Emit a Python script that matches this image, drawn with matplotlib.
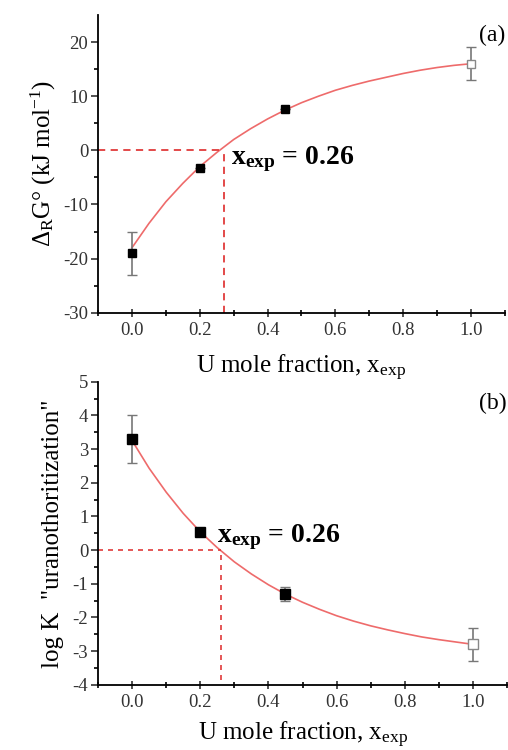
import numpy as np
import matplotlib
matplotlib.use('Agg')
import matplotlib.pyplot as plt

plt.rcParams['font.family'] = ['Liberation Serif', 'DejaVu Serif']
plt.rcParams['mathtext.fontset'] = 'custom'
plt.rcParams['mathtext.rm'] = 'Liberation Serif'
plt.rcParams['mathtext.it'] = 'Liberation Serif:italic'
plt.rcParams['mathtext.bf'] = 'Liberation Serif:bold'
plt.rcParams['axes.unicode_minus'] = False

# measured points: mole fraction, value, error
x_pts = [0.0, 0.2, 0.45]
dG_pts = [-19.0, -3.2, 7.6]
dG_err = [4.0, 0.0, 0.0]
x_end = [1.0]
dG_end = [16.0]
dG_end_err = [3.0]

logK_pts = [3.3, 0.55, -1.3]
logK_err = [0.7, 0.0, 0.2]
logK_end = [-2.8]
logK_end_err = [0.5]

# fitted curves read along x
x_fit = [0.0, 0.05, 0.1, 0.15, 0.2, 0.25, 0.3, 0.35, 0.4, 0.45, 0.5,
         0.55, 0.6, 0.65, 0.7, 0.75, 0.8, 0.85, 0.9, 0.95, 1.0]
dG_fit = [-18.0, -13.5, -9.5, -6.1, -3.0, -0.4, 2.0, 4.0, 5.8, 7.4, 8.8,
          10.0, 11.1, 12.0, 12.8, 13.5, 14.2, 14.8, 15.3, 15.7, 16.0]
logK_fit = [3.25, 2.43, 1.72, 1.09, 0.54, 0.07, -0.35, -0.71, -1.03, -1.31, -1.55,
            -1.76, -1.95, -2.11, -2.25, -2.37, -2.48, -2.58, -2.66, -2.73, -2.80]

x_cross_a = 0.27
x_cross_b = 0.26

fit_color = '#ee6b6b'
dash_color = '#e03a3a'
err_color = '#777777'

xexp_label = r'$\mathbf{x}_{\mathbf{exp}}$ = 0.26'

fig = plt.figure(figsize=(5.08, 7.5), dpi=100)
ax1 = fig.add_axes([0.193, 0.583, 0.801, 0.397])
ax2 = fig.add_axes([0.193, 0.087, 0.805, 0.404])


def style_axis(ax, pad):
    for s in ['top', 'right']:
        ax.spines[s].set_visible(False)
    for s in ['left', 'bottom']:
        ax.spines[s].set_linewidth(1.3)
    ax.set_xlim(-0.1, 1.1)
    ax.set_xticks([0.0, 0.2, 0.4, 0.6, 0.8, 1.0])
    ax.set_xticks(np.arange(-0.1, 1.11, 0.1), minor=True)
    ax.set_xticklabels(['0.0', '0.2', '0.4', '0.6', '0.8', '1.0'])
    ax.tick_params(axis='x', which='major', direction='inout', length=6, width=1.2,
                   labelsize=13.5, colors='#333333', pad=4)
    ax.tick_params(axis='x', which='minor', direction='inout', length=4, width=1.2)
    ax.tick_params(axis='y', which='major', direction='out', length=5, width=1.2,
                   labelsize=13.5, colors='#333333', pad=2)
    ax.tick_params(axis='y', which='minor', direction='out', length=3, width=1.2)
    ax.set_xlabel(r'U mole fraction, x$_{\mathrm{exp}}$', fontsize=18, labelpad=pad)


# (a) reaction Gibbs energy
style_axis(ax1, 10)
ax1.set_ylim(-30, 25)
ax1.set_yticks([-30, -20, -10, 0, 10, 20])
ax1.set_yticks(np.arange(-30, 25, 5), minor=True)
ax1.plot(x_fit, dG_fit, color=fit_color, lw=1.2)
ax1.plot([-0.1, x_cross_a], [0, 0], ls=(0, (4, 3)), color=dash_color, lw=1.3)
ax1.plot([x_cross_a, x_cross_a], [-30, 0], ls=(0, (4, 3)), color=dash_color, lw=1.3)
ax1.errorbar(x_pts, dG_pts, yerr=dG_err, fmt='s', ms=5.5, mfc='black', mec='black',
             ecolor=err_color, elinewidth=1.2, capsize=3.5, zorder=4)
ax1.errorbar(x_end, dG_end, yerr=dG_end_err, fmt='s', ms=5.5, mfc='white', mec='#888888',
             ecolor=err_color, elinewidth=1.2, capsize=3.5, zorder=4)
ax1.set_ylabel(r'Δ$_{\mathrm{R}}$G° (kJ mol$^{\mathrm{-1}}$)', fontsize=18, labelpad=4)
ax1.text(0.293, -2.6, xexp_label, fontsize=20, fontweight='bold',
         ha='left', va='baseline')
ax1.text(1.0, 0.93, '(a)', transform=ax1.transAxes, fontsize=17, ha='right', va='center')

# (b) uranothoritization constant
style_axis(ax2, 6)
ax2.set_ylim(-4, 5)
ax2.set_yticks(np.arange(-4, 6, 1))
ax2.set_yticks(np.arange(-4, 5.1, 0.5), minor=True)
ax2.plot(x_fit, logK_fit, color=fit_color, lw=1.2)
ax2.plot([-0.1, x_cross_b], [0, 0], ls=(0, (3, 3)), color=dash_color, lw=1.2)
ax2.plot([x_cross_b, x_cross_b], [-3.85, 0], ls=(0, (3, 3)), color=dash_color, lw=1.2)
ax2.errorbar(x_pts, logK_pts, yerr=logK_err, fmt='s', ms=7, mfc='black', mec='black',
             ecolor=err_color, elinewidth=1.2, capsize=3.5, zorder=4)
ax2.errorbar(x_end, logK_end, yerr=logK_end_err, fmt='s', ms=7, mfc='white', mec='#888888',
             ecolor=err_color, elinewidth=1.2, capsize=3.5, zorder=4)
ax2.set_ylabel('log K  "uranothoritization"', fontsize=18, labelpad=6)
ax2.text(0.25, 0.24, xexp_label, fontsize=20, fontweight='bold',
         ha='left', va='baseline')
ax2.text(1.0, 0.93, '(b)', transform=ax2.transAxes, fontsize=17, ha='right', va='center')

fig.savefig('out.png', dpi=100)
